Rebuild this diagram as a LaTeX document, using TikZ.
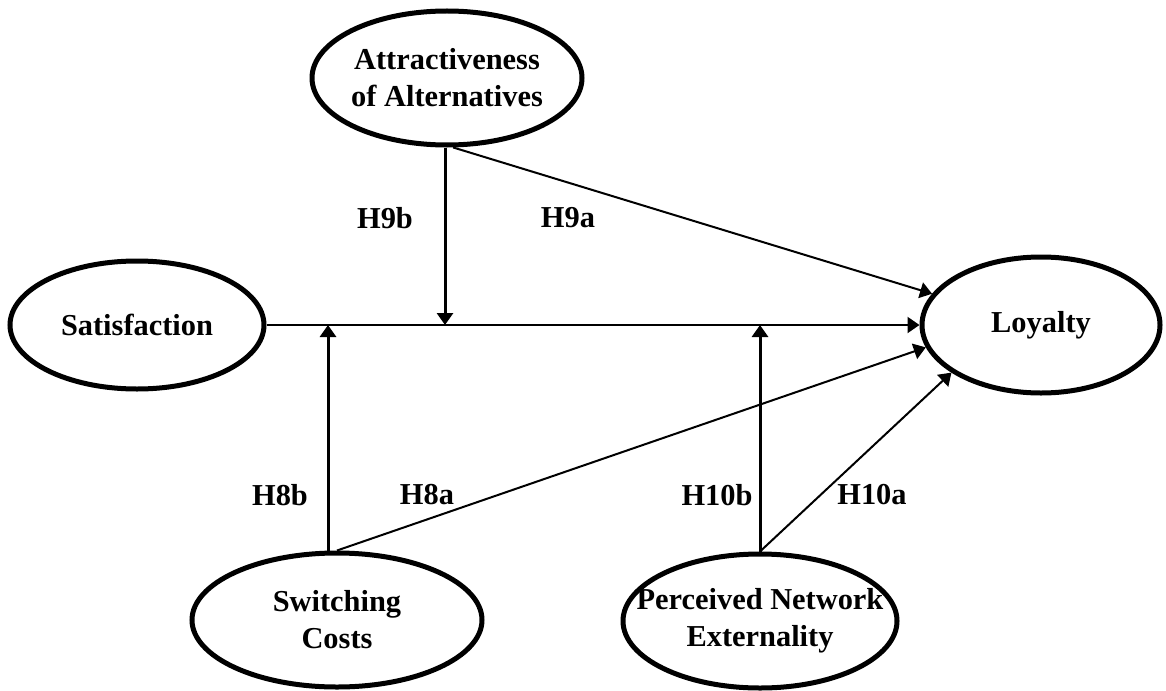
\documentclass[tikz,border=0pt]{standalone}
\usepackage{fontspec}
\setmainfont{Liberation Serif}
\usetikzlibrary{shapes.geometric,arrows.meta}
\begin{document}
\begin{tikzpicture}[x=0.5pt,y=-0.5pt,
  construct/.style={ellipse, draw, line width=2.5pt, inner sep=0pt},
  ctext/.style={align=center, inner sep=0pt, font=\fontsize{15.2}{18.5}\selectfont\bfseries},
  hyp/.style={inner sep=0pt, font=\fontsize{15.2}{18}\selectfont\bfseries},
  tip/.style={-{Triangle[length=6pt,width=8pt]}},
  pathline/.style={tip, line width=1pt},
  modline/.style={tip, line width=1.5pt}]
\useasboundingbox (0,0) rectangle (1166,690);
% constructs
\node[construct, minimum width=135pt, minimum height=67pt] (att) at (447,78) {};
\node[ctext] (attT) at (att) {Attractiveness\\of Alternatives};
\node[construct, minimum width=119pt, minimum height=68pt] (loy) at (1041,325) {};
\node[ctext] (loyT) at (loy) {Loyalty};
\node[construct, minimum width=127pt, minimum height=64pt] (sat) at (137,325) {};
\node[ctext] (satT) at (sat) {Satisfaction};
\node[construct, minimum width=145pt, minimum height=67pt] (sw) at (337,620) {};
\node[ctext] (swT) at (sw) {Switching\\Costs};
\node[construct, minimum width=137pt, minimum height=67pt] (pne) at (760,621) {};
\node[ctext] (pneT) at (pne) {Perceived Network\\Externality};
% junctions on the main path
\coordinate (j8) at (328,325);
\coordinate (j9) at (445,325);
\coordinate (j10) at (760,325);
% connectors
\draw[pathline] (sat) -- (loy);
\draw[modline] (att.south -| j9) -- (j9);
\draw[pathline] (att.-85) -- (loy.164);
\draw[modline] (sw.north -| j8) -- (j8);
\draw[pathline] (sw.north) -- (loy.191);
\draw[modline] (pne.north) -- (j10);
\draw[pathline] (pne.north) -- (loy.208);
% hypothesis labels
\node[hyp] (h9b) at (385,218) {H9b};
\node[hyp] (h9a) at (568,218) {H9a};
\node[hyp] (h8b) at (280,495) {H8b};
\node[hyp] (h8a) at (427,495) {H8a};
\node[hyp] (h10b) at (717,495) {H10b};
\node[hyp] (h10a) at (872,495) {H10a};
\end{tikzpicture}
\end{document}
